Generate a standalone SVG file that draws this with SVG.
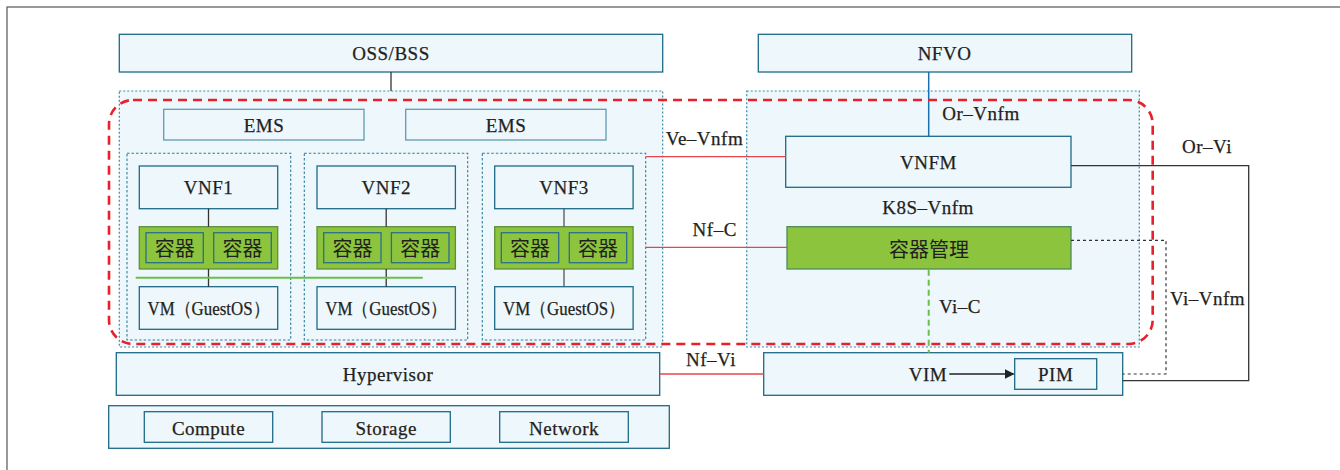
<svg xmlns="http://www.w3.org/2000/svg" width="1340" height="470" viewBox="0 0 1340 470">
<style>
.box{fill:#eef7fc;stroke:#1e6a88;stroke-width:1.3}
.lbox{fill:#eef7fc;stroke:#5c9cb4;stroke-width:1.3}
.dot{fill:#eef7fc;stroke:#3a8aa6;stroke-width:1.2;stroke-dasharray:2 2}
.vdot{fill:none;stroke:#2d7f9c;stroke-width:1.1;stroke-dasharray:2.5 2}
.grn{fill:#8cc43e;stroke:#5f8f3a;stroke-width:1.3}
.cbox{fill:#8cc43e;stroke:#2b6f89;stroke-width:1.3}
text{font-family:"Liberation Serif","Times New Roman","DejaVu Serif",serif;font-size:19px;letter-spacing:0.5px;fill:#231f20;stroke:#231f20;stroke-width:0.25;text-anchor:middle;dominant-baseline:central}
.cjk{font-family:"Noto Sans CJK SC",sans-serif;font-size:20px;letter-spacing:0;stroke-width:0}
.vm{letter-spacing:0}
.blk{stroke:#333;stroke-width:1.3;fill:none}
.red{stroke:#e5454d;stroke-width:1.3;fill:none}
</style>
<defs>
<marker id="arr" markerWidth="10" markerHeight="10" refX="9" refY="5" orient="auto" markerUnits="userSpaceOnUse">
<path d="M0,0 L10,5 L0,10 Z" fill="#222"/>
</marker>
</defs>
<rect x="7" y="7" width="1345" height="480" fill="none" stroke="#555" stroke-width="1.2"/>

<g id="vnf-domain">
<rect class="dot" x="119.3" y="91" width="543.4" height="256"/>
</g>
<g id="mano-domain">
<rect class="dot" x="746.7" y="91" width="392.6" height="256"/>
</g>
<g id="oss-bss"><rect class="box" x="119.3" y="34.3" width="543.4" height="37.7"/><text x="391" y="53.5">OSS/BSS</text></g>
<g id="nfvo"><rect class="box" x="758.3" y="34.3" width="373.4" height="37.7"/><text x="944.5" y="53.5">NFVO</text></g>

<g id="ems1"><rect class="lbox" x="163.7" y="109.3" width="200.3" height="30.7"/><text x="264" y="125.5">EMS</text></g>
<g id="ems2"><rect class="lbox" x="405.7" y="109.3" width="200.3" height="30.7"/><text x="506" y="125.5">EMS</text></g>

<g id="vnf1-group"><rect class="vdot" x="127" y="153.3" width="163.7" height="186.7"/></g>
<g id="vnf2-group"><rect class="vdot" x="304.3" y="153.3" width="163.4" height="186.7"/></g>
<g id="vnf3-group"><rect class="vdot" x="482.3" y="153.3" width="163.4" height="186.7"/></g>

<g id="vnf1"><rect class="box" x="139.3" y="166" width="138.4" height="42.7"/><text x="208.5" y="187.5">VNF1</text></g>
<g id="vnf2"><rect class="box" x="317" y="166" width="138.4" height="42.7"/><text x="386.2" y="187.5">VNF2</text></g>
<g id="vnf3"><rect class="box" x="494.7" y="166" width="138.4" height="42.7"/><text x="564" y="187.5">VNF3</text></g>

<g id="containers1">
<rect class="grn" x="139.3" y="226.7" width="138.4" height="42.3"/>
<rect class="cbox" x="146" y="232.7" width="57.3" height="30"/><text class="cjk" x="174.7" y="247.7">容器</text>
<rect class="cbox" x="213.7" y="232.7" width="57.6" height="30"/><text class="cjk" x="242.5" y="247.7">容器</text>
</g>
<g id="containers2">
<rect class="grn" x="317" y="226.7" width="138.4" height="42.3"/>
<rect class="cbox" x="323.7" y="232.7" width="57.3" height="30"/><text class="cjk" x="352.4" y="247.7">容器</text>
<rect class="cbox" x="391.4" y="232.7" width="57.6" height="30"/><text class="cjk" x="420.2" y="247.7">容器</text>
</g>
<g id="containers3">
<rect class="grn" x="494.7" y="226.7" width="138.4" height="42.3"/>
<rect class="cbox" x="501.3" y="232.7" width="57.4" height="30"/><text class="cjk" x="530" y="247.7">容器</text>
<rect class="cbox" x="569.3" y="232.7" width="57.4" height="30"/><text class="cjk" x="598" y="247.7">容器</text>
</g>

<g id="vm1"><rect class="box" x="139.3" y="286.7" width="138.4" height="42.6"/><text class="vm" x="208.5" y="308" textLength="122" lengthAdjust="spacingAndGlyphs">VM（GuestOS）</text></g>
<g id="vm2"><rect class="box" x="317" y="286.7" width="138.4" height="42.6"/><text class="vm" x="386.2" y="308" textLength="122" lengthAdjust="spacingAndGlyphs">VM（GuestOS）</text></g>
<g id="vm3"><rect class="box" x="494.7" y="286.7" width="138.4" height="42.6"/><text class="vm" x="564" y="308" textLength="122" lengthAdjust="spacingAndGlyphs">VM（GuestOS）</text></g>

<g id="vnfm"><rect class="box" x="785.7" y="136.3" width="285.3" height="51"/><text x="928.4" y="162">VNFM</text></g>
<g id="container-mgmt"><rect class="grn" x="787" y="226.7" width="284" height="42.3" style="stroke:#4f8a5a"/><text class="cjk" x="929" y="248">容器管理</text></g>

<g id="hypervisor"><rect class="box" x="116.3" y="352.7" width="543.4" height="42.6"/><text x="388" y="374.5">Hypervisor</text></g>
<g id="vim"><rect class="box" x="763.7" y="352.7" width="359" height="42.6"/><text x="928" y="374.5">VIM</text></g>
<g id="pim"><rect class="box" x="1014.7" y="358.7" width="82" height="30.6"/><text x="1055.7" y="374.5">PIM</text></g>

<g id="resources"><rect class="box" x="108.7" y="405.7" width="560.6" height="42.6"/></g>
<g id="compute"><rect class="box" x="144.3" y="411.7" width="128.4" height="30.6"/><text x="208.5" y="428">Compute</text></g>
<g id="storage"><rect class="box" x="322" y="411.7" width="128.3" height="30.6"/><text x="386.2" y="428">Storage</text></g>
<g id="network"><rect class="box" x="499.7" y="411.7" width="128.6" height="30.6"/><text x="564" y="428">Network</text></g>

<g id="connectors">
<line x1="391" y1="72" x2="391" y2="91" stroke="#333" stroke-width="1.3"/>
<line x1="928.7" y1="72" x2="928.7" y2="136.3" stroke="#1a6fb0" stroke-width="1.5"/>
<line x1="208.5" y1="208.7" x2="208.5" y2="226.7" stroke="#333" stroke-width="1.3"/>
<line x1="386.2" y1="208.7" x2="386.2" y2="226.7" stroke="#333" stroke-width="1.3"/>
<line x1="564" y1="208.7" x2="564" y2="226.7" stroke="#555" stroke-width="1.3"/>
<line x1="208.5" y1="269" x2="208.5" y2="286.7" stroke="#333" stroke-width="1.3"/>
<line x1="386.2" y1="269" x2="386.2" y2="286.7" stroke="#333" stroke-width="1.3"/>
<line x1="564" y1="269" x2="564" y2="286.7" stroke="#555" stroke-width="1.3"/>
<line x1="135.7" y1="277.7" x2="422.7" y2="277.7" stroke="#6abf4b" stroke-width="2"/>
<line class="red" x1="645.7" y1="156.7" x2="785.7" y2="156.7"/>
<line class="red" x1="645.7" y1="247.3" x2="787" y2="247.3"/>
<line class="red" x1="659.7" y1="374" x2="763.7" y2="374"/>
<line x1="928.7" y1="269.7" x2="928.7" y2="352.7" stroke="#6abf4b" stroke-width="2" stroke-dasharray="6 4"/>
<polyline class="blk" points="1071,165.7 1248.7,165.7 1248.7,380.7 1122.7,380.7"/>
<polyline fill="none" stroke="#333" stroke-width="1.2" stroke-dasharray="3 3" points="1071,240.3 1166,240.3 1166,374 1122.7,374"/>
<line x1="949.3" y1="374" x2="1013.5" y2="374" stroke="#222" stroke-width="1.3" marker-end="url(#arr)"/>
<text x="704.5" y="138">Ve–Vnfm</text>
<text x="714.7" y="229.5">Nf–C</text>
<text x="711" y="359.5">Nf–Vi</text>
<text x="981" y="113">Or–Vnfm</text>
<text x="928" y="207">K8S–Vnfm</text>
<text x="960" y="306.5">Vi–C</text>
<text x="1207" y="146.5">Or–Vi</text>
<text x="1207.5" y="298">Vi–Vnfm</text>
</g>

<g id="nfvi-boundary">
<rect x="109" y="100" width="1043.7" height="244" rx="24" ry="24" fill="none" stroke="#e8202a" stroke-width="2.6" stroke-dasharray="9 6"/>
</g>
</svg>
